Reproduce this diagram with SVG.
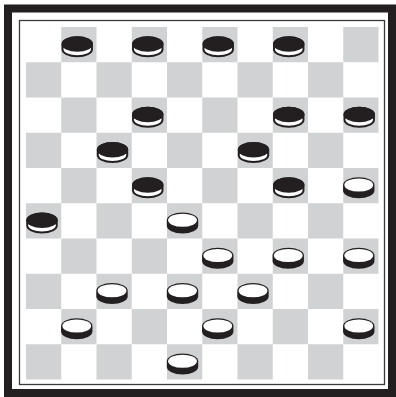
<svg xmlns="http://www.w3.org/2000/svg" xmlns:xlink="http://www.w3.org/1999/xlink" width="396" height="397" viewBox="0 0 396 397">
<style>
.frame{fill:none;stroke:#231f20;stroke-width:8}
.inner{fill:none;stroke:#3a3a3a;stroke-width:1.3}
.dark{fill:#d1d2d3}
.ink{fill:#231f20}
.paper{fill:#ffffff}
</style>
<defs>
<g id="blackPiece">
<path class="ink" d="M0.3,17 A15.7,7.8 0 0 1 31.7,17 L31.7,22.5 A15.7,7.8 0 0 1 0.3,22.5 Z"/>
<ellipse class="paper" cx="16" cy="22" rx="13.8" ry="6.2"/>
<ellipse class="ink" cx="16" cy="17" rx="15.7" ry="7.8"/>
</g>
<g id="whitePiece">
<path class="ink" d="M0.3,17 A15.7,7.8 0 0 1 31.7,17 L31.7,22.5 A15.7,7.8 0 0 1 0.3,22.5 Z"/>
<ellipse class="paper" cx="16" cy="17" rx="14.4" ry="6.6"/>
</g>
</defs>
<rect x="0" y="0" width="396" height="397" fill="#ffffff"/>
<g id="frame">
<rect class="frame" x="8" y="8.5" width="384" height="384.5"/>
<rect class="inner" x="19.5" y="20.5" width="365" height="364"/>
</g>
<g id="board">
<rect x="26" y="27" width="352.5" height="352.5" fill="#ffffff"/>
<g class="dark">
<rect x="61.25" y="27" width="35.25" height="35.25"/><rect x="131.75" y="27" width="35.25" height="35.25"/><rect x="202.25" y="27" width="35.25" height="35.25"/><rect x="272.75" y="27" width="35.25" height="35.25"/><rect x="343.25" y="27" width="35.25" height="35.25"/>
<rect x="26" y="62.25" width="35.25" height="35.25"/><rect x="96.5" y="62.25" width="35.25" height="35.25"/><rect x="167" y="62.25" width="35.25" height="35.25"/><rect x="237.5" y="62.25" width="35.25" height="35.25"/><rect x="308" y="62.25" width="35.25" height="35.25"/>
<rect x="61.25" y="97.5" width="35.25" height="35.25"/><rect x="131.75" y="97.5" width="35.25" height="35.25"/><rect x="202.25" y="97.5" width="35.25" height="35.25"/><rect x="272.75" y="97.5" width="35.25" height="35.25"/><rect x="343.25" y="97.5" width="35.25" height="35.25"/>
<rect x="26" y="132.75" width="35.25" height="35.25"/><rect x="96.5" y="132.75" width="35.25" height="35.25"/><rect x="167" y="132.75" width="35.25" height="35.25"/><rect x="237.5" y="132.75" width="35.25" height="35.25"/><rect x="308" y="132.75" width="35.25" height="35.25"/>
<rect x="61.25" y="168" width="35.25" height="35.25"/><rect x="131.75" y="168" width="35.25" height="35.25"/><rect x="202.25" y="168" width="35.25" height="35.25"/><rect x="272.75" y="168" width="35.25" height="35.25"/><rect x="343.25" y="168" width="35.25" height="35.25"/>
<rect x="26" y="203.25" width="35.25" height="35.25"/><rect x="96.5" y="203.25" width="35.25" height="35.25"/><rect x="167" y="203.25" width="35.25" height="35.25"/><rect x="237.5" y="203.25" width="35.25" height="35.25"/><rect x="308" y="203.25" width="35.25" height="35.25"/>
<rect x="61.25" y="238.5" width="35.25" height="35.25"/><rect x="131.75" y="238.5" width="35.25" height="35.25"/><rect x="202.25" y="238.5" width="35.25" height="35.25"/><rect x="272.75" y="238.5" width="35.25" height="35.25"/><rect x="343.25" y="238.5" width="35.25" height="35.25"/>
<rect x="26" y="273.75" width="35.25" height="35.25"/><rect x="96.5" y="273.75" width="35.25" height="35.25"/><rect x="167" y="273.75" width="35.25" height="35.25"/><rect x="237.5" y="273.75" width="35.25" height="35.25"/><rect x="308" y="273.75" width="35.25" height="35.25"/>
<rect x="61.25" y="309" width="35.25" height="35.25"/><rect x="131.75" y="309" width="35.25" height="35.25"/><rect x="202.25" y="309" width="35.25" height="35.25"/><rect x="272.75" y="309" width="35.25" height="35.25"/><rect x="343.25" y="309" width="35.25" height="35.25"/>
<rect x="26" y="344.25" width="35.25" height="35.25"/><rect x="96.5" y="344.25" width="35.25" height="35.25"/><rect x="167" y="344.25" width="35.25" height="35.25"/><rect x="237.5" y="344.25" width="35.25" height="35.25"/><rect x="308" y="344.25" width="35.25" height="35.25"/>
</g>
</g>
<g id="black-pieces">
<g id="b-r0c1"><use xlink:href="#blackPiece" href="#blackPiece" x="61.25" y="27"/></g>
<g id="b-r0c3"><use xlink:href="#blackPiece" href="#blackPiece" x="131.75" y="27"/></g>
<g id="b-r0c5"><use xlink:href="#blackPiece" href="#blackPiece" x="202.25" y="27"/></g>
<g id="b-r0c7"><use xlink:href="#blackPiece" href="#blackPiece" x="272.75" y="27"/></g>
<g id="b-r2c3"><use xlink:href="#blackPiece" href="#blackPiece" x="131.75" y="97.5"/></g>
<g id="b-r2c7"><use xlink:href="#blackPiece" href="#blackPiece" x="272.75" y="97.5"/></g>
<g id="b-r2c9"><use xlink:href="#blackPiece" href="#blackPiece" x="343.25" y="97.5"/></g>
<g id="b-r3c2"><use xlink:href="#blackPiece" href="#blackPiece" x="96.5" y="132.75"/></g>
<g id="b-r3c6"><use xlink:href="#blackPiece" href="#blackPiece" x="237.5" y="132.75"/></g>
<g id="b-r4c3"><use xlink:href="#blackPiece" href="#blackPiece" x="131.75" y="168"/></g>
<g id="b-r4c7"><use xlink:href="#blackPiece" href="#blackPiece" x="272.75" y="168"/></g>
<g id="b-r5c0"><use xlink:href="#blackPiece" href="#blackPiece" x="26" y="203.25"/></g>
</g>
<g id="white-pieces">
<g id="w-r4c9"><use xlink:href="#whitePiece" href="#whitePiece" x="342.75" y="168"/></g>
<g id="w-r5c4"><use xlink:href="#whitePiece" href="#whitePiece" x="166.5" y="203.25"/></g>
<g id="w-r6c5"><use xlink:href="#whitePiece" href="#whitePiece" x="201.75" y="238.5"/></g>
<g id="w-r6c7"><use xlink:href="#whitePiece" href="#whitePiece" x="272.25" y="238.5"/></g>
<g id="w-r6c9"><use xlink:href="#whitePiece" href="#whitePiece" x="342.75" y="238.5"/></g>
<g id="w-r7c2"><use xlink:href="#whitePiece" href="#whitePiece" x="96" y="273.75"/></g>
<g id="w-r7c4"><use xlink:href="#whitePiece" href="#whitePiece" x="166.5" y="273.75"/></g>
<g id="w-r7c6"><use xlink:href="#whitePiece" href="#whitePiece" x="237" y="273.75"/></g>
<g id="w-r8c1"><use xlink:href="#whitePiece" href="#whitePiece" x="60.75" y="309"/></g>
<g id="w-r8c5"><use xlink:href="#whitePiece" href="#whitePiece" x="201.75" y="309"/></g>
<g id="w-r8c9"><use xlink:href="#whitePiece" href="#whitePiece" x="342.75" y="309"/></g>
<g id="w-r9c4"><use xlink:href="#whitePiece" href="#whitePiece" x="166.5" y="344.25"/></g>
</g>
</svg>
